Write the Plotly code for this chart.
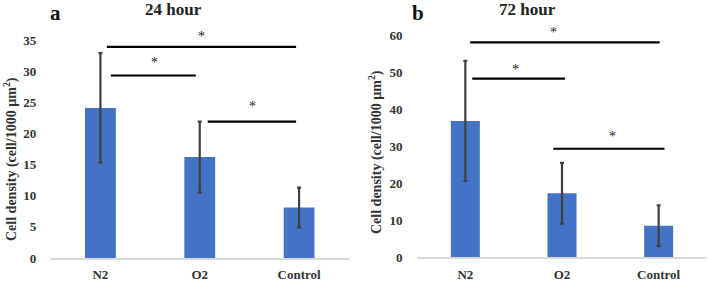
import plotly.graph_objects as go

categories = ["N2", "O2", "Control"]

# Panel a: 24 hour
a_values = [24.1, 16.2, 8.1]
a_errors = [8.8, 5.7, 3.2]
# significance brackets: (x_start_idx, x_end_idx, y)
a_sig = [(0.065, 1.97, 33.9), (0.105, 0.96, 29.3), (1.08, 1.97, 21.9)]
a_stars = [(1.02, 35.5), (0.54, 31.4), (1.53, 24.3)]

# Panel b: 72 hour
b_values = [36.8, 17.3, 8.5]
b_errors = [16.2, 8.2, 5.5]
b_sig = [(0.05, 2.01, 58.0), (0.072, 1.03, 48.2), (0.91, 2.06, 29.3)]
b_stars = [(0.91, 60.6), (0.52, 50.6), (1.52, 32.6)]

a_ticks = [0, 5, 10, 15, 20, 25, 30, 35]
b_ticks = [0, 10, 20, 30, 40, 50, 60]

BLUE = "#4472C4"
ERR = "#404040"
FONT = "Liberation Serif, Times New Roman, serif"

fig = go.Figure()

fig.add_trace(go.Bar(
    x=categories, y=a_values, xaxis="x", yaxis="y",
    marker=dict(color=BLUE, line=dict(width=0)), width=0.31,
    error_y=dict(type="data", array=a_errors, color=ERR, thickness=2.2, width=2),
    showlegend=False,
))
fig.add_trace(go.Bar(
    x=categories, y=b_values, xaxis="x2", yaxis="y2",
    marker=dict(color=BLUE, line=dict(width=0)), width=0.30,
    error_y=dict(type="data", array=b_errors, color=ERR, thickness=2.2, width=2),
    showlegend=False,
))

W, H = 708, 281

def px_x(p):
    return p / W

def px_y(p):
    return (H - p) / H

tickfont = dict(family=FONT, size=13, color="#333333", weight="bold")
common = dict(tickfont=tickfont, showgrid=False, zeroline=False, automargin=False,
              tickcolor="rgba(0,0,0,0)", ticks="outside")

fig.update_layout(
    width=W, height=H,
    margin=dict(l=0, r=0, t=0, b=0, pad=0, autoexpand=False),
    paper_bgcolor="white", plot_bgcolor="white",
    xaxis=dict(domain=[px_x(50.75), px_x(348.75)], anchor="y",
               showline=True, linecolor="#d9d9d9", linewidth=1.5, ticklen=4, **common),
    yaxis=dict(domain=[px_y(258), px_y(40)], range=[0, 35], anchor="x",
               tickvals=a_ticks, showline=False, ticklen=11, **common),
    xaxis2=dict(domain=[px_x(417), px_x(707)], anchor="y2",
                showline=True, linecolor="#d9d9d9", linewidth=1.5, ticklen=4, **common),
    yaxis2=dict(domain=[px_y(257.3), px_y(35)], range=[0, 60], anchor="x2",
                tickvals=b_ticks, showline=False, ticklen=11, **common),
)

# data -> paper y helpers (for star annotations that may sit above the axis range)
def a_to_paper(v):
    y0, y1 = px_y(258), px_y(40)
    return y0 + (y1 - y0) * v / 35

def b_to_paper(v):
    y0, y1 = px_y(257.3), px_y(35)
    return y0 + (y1 - y0) * v / 60

shapes = []
annotations = []
starfont = dict(family=FONT, size=14, color="#222222")
for (x0, x1, y), (sx, sy) in zip(a_sig, a_stars):
    shapes.append(dict(type="line", xref="x", yref="y", x0=x0, x1=x1, y0=y, y1=y,
                       line=dict(color="black", width=2.2)))
    annotations.append(dict(xref="x", yref="paper", x=sx, y=a_to_paper(sy), text="*",
                            showarrow=False, font=starfont))
for (x0, x1, y), (sx, sy) in zip(b_sig, b_stars):
    shapes.append(dict(type="line", xref="x2", yref="y2", x0=x0, x1=x1, y0=y, y1=y,
                       line=dict(color="black", width=2.2)))
    annotations.append(dict(xref="x2", yref="paper", x=sx, y=b_to_paper(sy), text="*",
                            showarrow=False, font=starfont))

ylabel = "Cell density (cell/1000 µm<sup>2</sup>)"
labfont = dict(family=FONT, size=14, color="#333333", weight="bold")
annotations += [
    dict(xref="paper", yref="paper", x=px_x(10), y=px_y(159), text=ylabel, textangle=-90,
         showarrow=False, font=labfont),
    dict(xref="paper", yref="paper", x=px_x(375), y=px_y(152), text=ylabel, textangle=-90,
         showarrow=False, font=labfont),
    dict(xref="paper", yref="paper", x=px_x(173), y=px_y(9.5), text="24 hour",
         showarrow=False, font=dict(family=FONT, size=17, color="#222222", weight="bold")),
    dict(xref="paper", yref="paper", x=px_x(527), y=px_y(9.5), text="72 hour",
         showarrow=False, font=dict(family=FONT, size=17, color="#222222", weight="bold")),
]
for ann in annotations:
    ann["xanchor"] = "center"
    ann["yanchor"] = "middle"

annotations += [
    dict(xref="paper", yref="paper", x=px_x(55), y=1.0, text="a", xanchor="center",
         yanchor="top", borderpad=0, showarrow=False,
         font=dict(family=FONT, size=21, color="#111111", weight="bold")),
    dict(xref="paper", yref="paper", x=px_x(418), y=1.0, text="b", xanchor="center",
         yanchor="top", borderpad=0, showarrow=False,
         font=dict(family=FONT, size=21, color="#111111", weight="bold")),
]

fig.update_layout(shapes=shapes, annotations=annotations)

fig.write_html("out.html", config={"displayModeBar": False},
               post_script="document.body.style.margin='0';")
